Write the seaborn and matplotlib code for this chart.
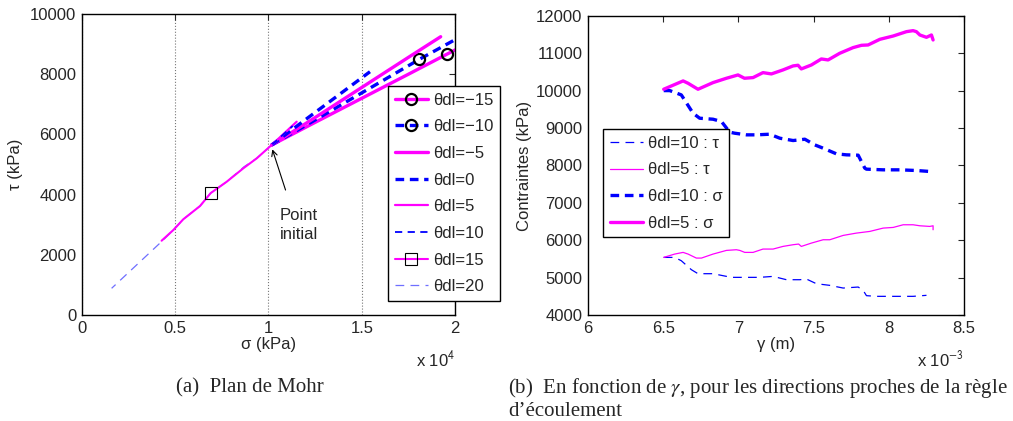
import numpy as np
import pandas as pd
import matplotlib
matplotlib.use("Agg")
import matplotlib.pyplot as plt
import seaborn as sns
from matplotlib.ticker import FuncFormatter

sns.set_style("white")
plt.rcParams['font.family'] = ['Liberation Sans', 'DejaVu Sans']
plt.rcParams['mathtext.fontset'] = 'stix'

MAG = '#ff00ff'
BLUE = '#0000ff'
LBLUE = '#6f6fff'

# --- (a) Plan de Mohr : sigma (x 1e4 kPa), tau (kPa) ---
sig_m15 = [1.017, 1.25, 1.5, 1.75, 1.955, 2.03]
tau_m15 = [5648, 6400, 7200, 8000, 8661, 8900]
sig_m10 = [1.017, 1.25, 1.5, 1.809, 2.03]
tau_m10 = [5648, 6480, 7380, 8495, 9250]
sig_m5 = [1.017, 1.25, 1.5, 1.75, 1.923]
tau_m5 = [5648, 6560, 7560, 8560, 9246]
sig_0 = [1.017, 1.2, 1.4, 1.544]
tau_0 = [5648, 6500, 7420, 8083]
sig_5 = [1.017, 1.151]
tau_5 = [5648, 6422]
sig_10 = [1.017, 1.13]
tau_10 = [5648, 6280]
sig_15 = [1.017, 0.937, 0.865, 0.776, 0.69, 0.633, 0.543, 0.49, 0.427]
tau_15 = [5648, 5206, 4874, 4428, 4050, 3621, 3179, 2824, 2468]
sig_20 = [1.017, 0.937, 0.87, 0.776, 0.69, 0.633, 0.543, 0.49, 0.436, 0.159]
tau_20 = [5648, 5206, 4930, 4428, 4050, 3621, 3179, 2824, 2492, 886]

# --- (b) en fonction de gamma (x 1e-3 m) ---
g_s5 = [6.503, 6.632, 6.665, 6.731, 6.831, 6.92, 6.997, 7.04, 7.097, 7.163, 7.219, 7.296,
        7.363, 7.396, 7.418, 7.485, 7.551, 7.596, 7.673, 7.762, 7.818, 7.862, 7.94, 8.029,
        8.117, 8.161, 8.183, 8.206, 8.25, 8.283, 8.294]
s_5 = [10040, 10263, 10200, 10040, 10218, 10334, 10423, 10334, 10352, 10485, 10450, 10557,
       10664, 10682, 10584, 10690, 10851, 10824, 11002, 11154, 11216, 11225, 11376, 11465,
       11581, 11608, 11581, 11492, 11430, 11492, 11359]
g_s10 = [6.503, 6.543, 6.62, 6.698, 6.742, 6.831, 6.887, 6.942, 6.975, 7.053, 7.12, 7.208,
         7.275, 7.363, 7.408, 7.441, 7.507, 7.563, 7.651, 7.718, 7.796, 7.84, 7.851, 7.962,
         8.072, 8.183, 8.272]
s_10 = [10004, 10004, 9889, 9399, 9265, 9238, 9176, 8891, 8864, 8820, 8820, 8837,
        8730, 8668, 8686, 8704, 8552, 8463, 8312, 8285, 8276, 7929, 7902, 7884,
        7884, 7866, 7840]
g_t5 = [6.503, 6.576, 6.632, 6.665, 6.72, 6.754, 6.831, 6.92, 6.986, 7.009, 7.042, 7.097,
        7.163, 7.23, 7.296, 7.363, 7.4, 7.418, 7.485, 7.563, 7.607, 7.696, 7.784, 7.873,
        7.962, 8.029, 8.095, 8.161, 8.206, 8.272, 8.294, 8.294]
t_5 = [5541, 5630, 5675, 5630, 5523, 5523, 5630, 5728, 5746, 5728, 5675, 5675,
       5764, 5764, 5835, 5880, 5898, 5835, 5924, 6013, 6013, 6129, 6191, 6236,
       6325, 6343, 6414, 6414, 6387, 6370, 6387, 6280]
g_t10 = [6.503, 6.576, 6.62, 6.687, 6.731, 6.831, 6.898, 6.953, 7.053, 7.141, 7.23, 7.319,
         7.408, 7.452, 7.518, 7.607, 7.696, 7.796, 7.829, 7.851, 7.918, 8.072, 8.161, 8.25]
t_10 = [5541, 5541, 5452, 5212, 5105, 5105, 5051, 5007, 5007, 5007, 5033, 4944,
        4944, 4962, 4837, 4793, 4721, 4748, 4659, 4517, 4499, 4499, 4499, 4526]

fig = plt.figure(figsize=(10.13, 4.21), dpi=100)
ax1 = fig.add_axes([0.0809, 0.2518, 0.3683, 0.7149])
ax2 = fig.add_axes([0.5805, 0.2518, 0.3712, 0.7102])

FS = 12
thin_dash = (0, (7, 5))
thick_dash = (0, (2.6, 1.7))

def line(ax, x, y, **kw):
    sns.lineplot(x=x, y=y, ax=ax, sort=False, estimator=None, **kw)

# left panel
line(ax1, sig_m15, tau_m15, color=MAG, lw=2.4, marker='o', markevery=[4], ms=8,
     mfc='none', mec='k', mew=1.6, label='θdl=\u221215')
line(ax1, sig_m10, tau_m10, color=BLUE, lw=2.4, linestyle=thick_dash, marker='o',
     markevery=[3], ms=8, mfc='none', mec='k', mew=1.6, label='θdl=\u221210')
line(ax1, sig_m5, tau_m5, color=MAG, lw=2.4, label='θdl=\u22125')
line(ax1, sig_0, tau_0, color=BLUE, lw=2.4, linestyle=thick_dash, label='θdl=0')
line(ax1, sig_5, tau_5, color=MAG, lw=1.6, label='θdl=5')
line(ax1, sig_10, tau_10, color=BLUE, lw=1.3, linestyle=(0, (4, 3)), label='θdl=10')
line(ax1, sig_20, tau_20, color=LBLUE, lw=0.9, linestyle=thin_dash, label='θdl=20')
line(ax1, sig_15, tau_15, color=MAG, lw=1.5, marker='s', markevery=[4], ms=9,
     mfc='none', mec='k', mew=0.8, label='θdl=15')

ax1.set_xlim(0, 2)
ax1.set_ylim(0, 10000)
ax1.set_xticks([0, 0.5, 1, 1.5, 2])
ax1.set_yticks(range(0, 10001, 2000))
ax1.xaxis.set_major_formatter(FuncFormatter(lambda v, p: '%g' % v))
ax1.grid(axis='x', ls=':', color='#777777', lw=0.8)
ax1.set_xlabel('σ (kPa)', fontsize=FS, labelpad=1)
ax1.set_ylabel('τ (kPa)', fontsize=FS, labelpad=5)
ax1.text(1.0, -0.115, r'x 10$^{\mathsf{4}}$', transform=ax1.transAxes, ha='right',
         va='top', fontsize=FS)
ax1.annotate('', xy=(1.016, 5592), xytext=(1.096, 4064),
             arrowprops=dict(arrowstyle='->', lw=0.8, color='k'))
ax1.text(1.06, 2990, 'Point\ninitial', fontsize=FS, va='center', ha='left', linespacing=1.35)

h, l = ax1.get_legend_handles_labels()
order = ['θdl=\u221215', 'θdl=\u221210', 'θdl=\u22125', 'θdl=0', 'θdl=5', 'θdl=10', 'θdl=15', 'θdl=20']
hd = dict(zip(l, h))
leg1 = ax1.legend([hd[k] for k in order], order, loc='upper left',
                  bbox_to_anchor=(388 / 1013, 1 - 86 / 421), bbox_transform=fig.transFigure,
                  fontsize=FS, frameon=True, fancybox=False, framealpha=1, edgecolor='k',
                  handlelength=2.0, handletextpad=0.3, labelspacing=0.7, borderpad=0.4,
                  borderaxespad=0)
leg1.get_frame().set_linewidth(1.0)

# right panel
line(ax2, g_t10, t_10, color=BLUE, lw=0.9, linestyle=thin_dash, label='θdl=10 : τ')
line(ax2, g_t5, t_5, color=MAG, lw=0.9, label='θdl=5 : τ')
line(ax2, g_s10, s_10, color=BLUE, lw=2.4, linestyle=thick_dash, label='θdl=10 : σ')
line(ax2, g_s5, s_5, color=MAG, lw=2.4, label='θdl=5 : σ')

ax2.set_xlim(6, 8.5)
ax2.set_ylim(4000, 12000)
ax2.set_xticks(np.arange(6, 8.51, 0.5))
ax2.set_yticks(range(4000, 12001, 1000))
ax2.xaxis.set_major_formatter(FuncFormatter(lambda v, p: '%g' % v))
ax2.set_xlabel('γ (m)', fontsize=FS, labelpad=1)
ax2.set_ylabel('Contraintes (kPa)', fontsize=FS, labelpad=3)
ax2.text(1.0, -0.115, r'x 10$^{\mathsf{-3}}$', transform=ax2.transAxes, ha='right',
         va='top', fontsize=FS)
leg2 = ax2.legend(loc='upper left', bbox_to_anchor=(603 / 1013, 1 - 129 / 421),
                  bbox_transform=fig.transFigure, fontsize=FS, frameon=True, fancybox=False,
                  framealpha=1, edgecolor='k', handlelength=2.0, handletextpad=0.3,
                  labelspacing=0.7, borderpad=0.4, borderaxespad=0)
leg2.get_frame().set_linewidth(1.0)

for ax in (ax1, ax2):
    ax.tick_params(direction='in', length=4, width=0.8, labelsize=FS, top=True, right=True,
                   pad=4)
    for s in ax.spines.values():
        s.set_color('k')
        s.set_linewidth(1.0)

# captions
fig.text(250 / 1013, 1 - 388 / 421, '(a)  Plan de Mohr', ha='center', va='center',
         family='Liberation Serif', fontsize=15)
fig.text(508 / 1013, 1 - 388 / 421,
         r'(b)  En fonction de $\gamma$, pour les directions proches de la règle',
         ha='left', va='center', family='Liberation Serif', fontsize=15)
fig.text(508 / 1013, 1 - 411 / 421, 'd\u2019écoulement', ha='left', va='center',
         family='Liberation Serif', fontsize=15)

fig.savefig('out.png', dpi=100)
